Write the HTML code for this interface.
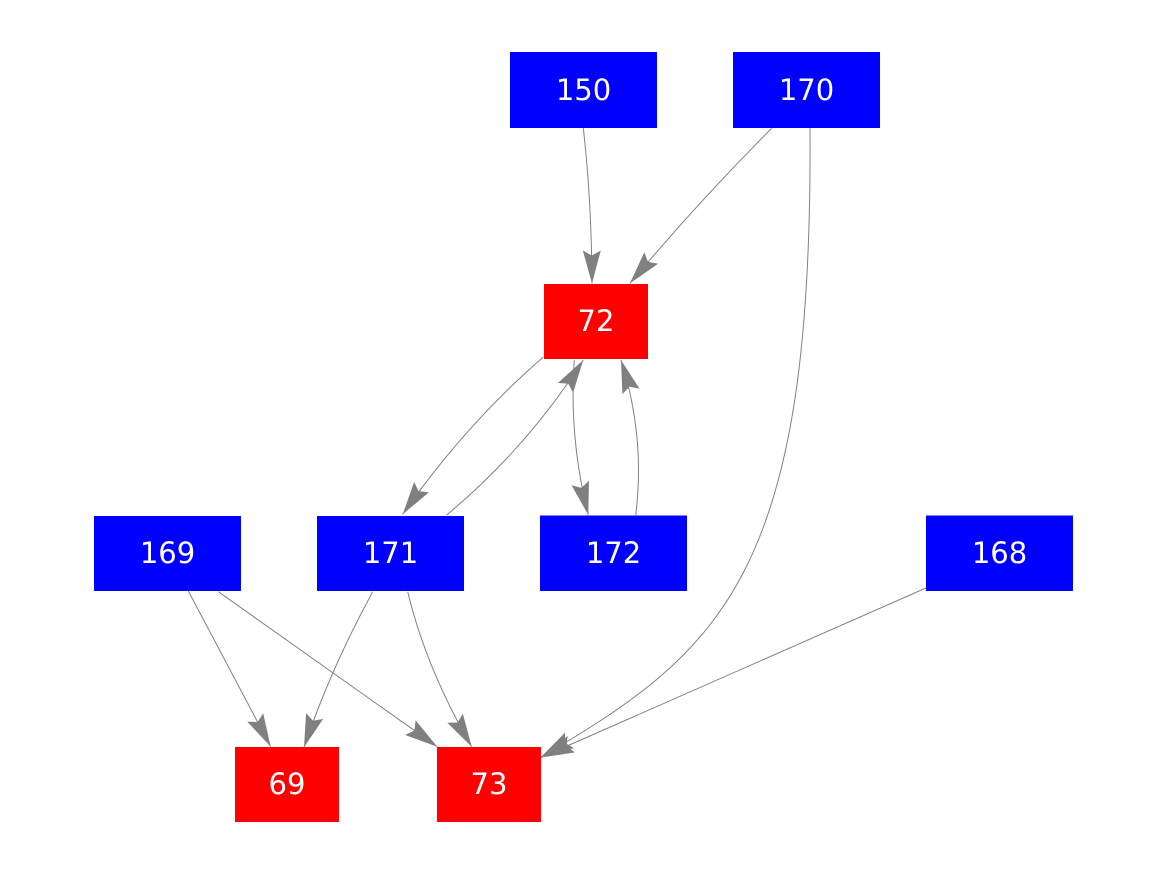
<!DOCTYPE html>
<html>
<head>
<meta charset="utf-8">
<style>
  html, body { margin: 0; padding: 0; background: #ffffff; }
  svg { display: block; }
  text { font-family: "DejaVu Sans", "Liberation Sans", sans-serif; font-size: 29px; fill: #ffffff; }
</style>
</head>
<body>
<svg width="1167" height="875" viewBox="0 0 1167 875" xmlns="http://www.w3.org/2000/svg">
  <defs>
    <marker id="ah" viewBox="0 0 33 18" refX="33" refY="9" markerWidth="33" markerHeight="18" markerUnits="userSpaceOnUse" orient="auto" overflow="visible">
      <polygon points="0,0 33,9 0,18 5,9" fill="#808080"/>
    </marker>
  </defs>
  <rect x="0" y="0" width="1167" height="875" fill="#ffffff"/>

  <!-- nodes -->
  <rect x="510" y="52" width="147" height="76" fill="#0000ff"/>
  <text x="583.5" y="100" text-anchor="middle">150</text>

  <rect x="733" y="52" width="147" height="76" fill="#0000ff"/>
  <text x="806.5" y="100" text-anchor="middle">170</text>

  <rect x="544" y="284" width="104" height="75" fill="#ff0000"/>
  <text x="596" y="331" text-anchor="middle">72</text>

  <rect x="94" y="516" width="147" height="75" fill="#0000ff"/>
  <text x="167.5" y="563" text-anchor="middle">169</text>

  <rect x="317" y="516" width="147" height="75" fill="#0000ff"/>
  <text x="390.5" y="563" text-anchor="middle">171</text>

  <rect x="540" y="515.5" width="147" height="75.5" fill="#0000ff"/>
  <text x="613.5" y="563" text-anchor="middle">172</text>

  <rect x="926" y="515.5" width="147" height="75.5" fill="#0000ff"/>
  <text x="999.5" y="563" text-anchor="middle">168</text>

  <rect x="235" y="747" width="104" height="75" fill="#ff0000"/>
  <text x="287" y="794" text-anchor="middle">69</text>

  <rect x="437" y="747" width="104" height="75" fill="#ff0000"/>
  <text x="489" y="794" text-anchor="middle">73</text>

  <!-- edges -->
  <g fill="none" stroke="#808080" stroke-width="1" marker-end="url(#ah)">
    <path d="M583.3,128 Q591.5,200 592,283.5"/>
    <path d="M771.7,128.3 Q699,201 630,283.3"/>
    <path d="M810,128 C813,570 725,650 541,757"/>
    <path d="M543.3,357 Q464,426 402.7,514.3"/>
    <path d="M446.7,515 Q527,448 583.3,360"/>
    <path d="M574.3,360 Q568.7,437 588.3,515"/>
    <path d="M635.7,515 Q645.6,437.5 621,360"/>
    <path d="M188.3,591 L270.7,746.7"/>
    <path d="M218.3,591.7 L437.3,746.7"/>
    <path d="M372.7,591.7 Q330.6,669 304,747.3"/>
    <path d="M407.7,591.7 Q426.3,669 471.7,746.7"/>
    <path d="M926,588 L541,757.5"/>
  </g>
</svg>
</body>
</html>
